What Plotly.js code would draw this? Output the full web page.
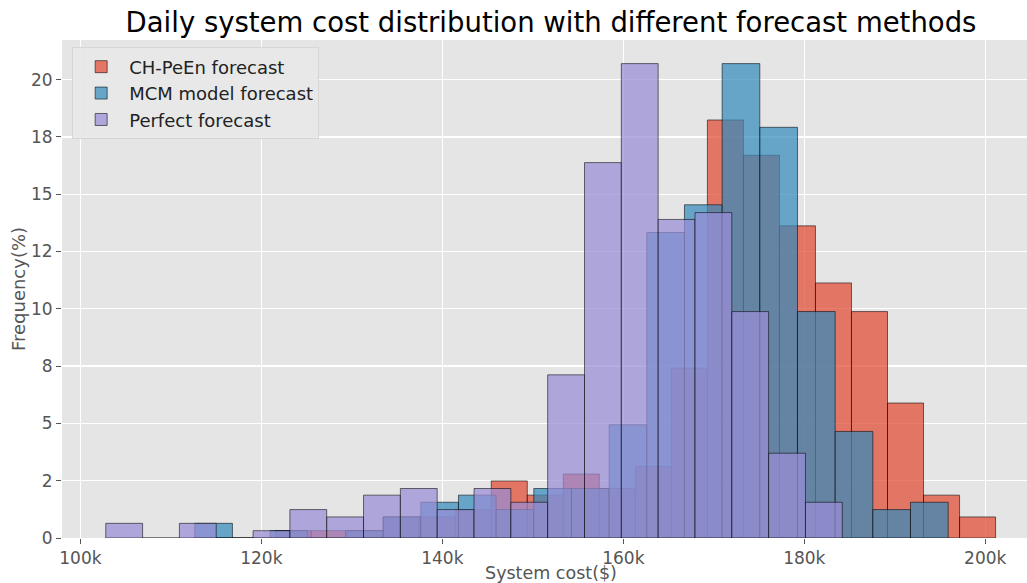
<!DOCTYPE html>
<html>
<head>
<meta charset="utf-8">
<script src="https://cdn.plot.ly/plotly-3.0.1.min.js"></script>
<style>
  html, body { margin: 0; padding: 0; background: #ffffff; overflow: hidden; }
  #chart { width: 1040px; height: 583px; }
</style>
</head>
<body>
<div id="chart"></div>
<script>
// ---- data ----
var seriesNames = ["CH-PeEn forecast", "MCM model forecast", "Perfect forecast"];

// histogram bin layout of each series: first bin left edge ($) and bin width ($)
var chpeenBinStart = 121520;
var chpeenBinWidth = 3981;
var mcmBinStart = 112640;
var mcmBinWidth = 4163;
var perfectBinStart = 102800;
var perfectBinWidth = 4070;

// frequency of each bin (%)
var chpeenFreq = [0.32, 0.32, 0.32, 0.92, 0.92, 1.24, 2.49, 1.87, 2.79, 2.16,
                  3.12, 7.41, 18.24, 16.70, 13.62, 11.13, 9.88, 5.89, 1.87, 0.92];
var mcmFreq = [0.64, 0, 0.32, 0, 0.32, 0.92, 1.56, 1.87, 1.24, 2.16,
               2.16, 4.94, 13.33, 14.54, 20.70, 17.92, 9.88, 4.65, 1.24, 1.56];
var perfectFreq = [0.64, 0, 0.64, 0, 0.32, 1.24, 0.92, 1.87, 2.16, 1.24,
                   2.16, 1.56, 7.12, 16.38, 20.70, 13.90, 14.20, 9.88, 3.70, 1.56];

var xTickVals = [100000, 120000, 140000, 160000, 180000, 200000];
var xTickText = ["100k", "120k", "140k", "160k", "180k", "200k"];
var yTickVals = [0, 2.5, 5, 7.5, 10, 12.5, 15, 17.5, 20];
var yTickText = ["0", "2", "5", "8", "10", "12", "15", "18", "20"];

// ---- build bar traces from the bin definitions ----
function binCenters(start, width, n) {
  var c = [];
  for (var i = 0; i < n; i++) c.push(start + width * (i + 0.5));
  return c;
}

var colors = ["rgba(226,74,51,0.72)", "rgba(52,138,189,0.72)", "rgba(152,142,213,0.72)"];
var starts = [chpeenBinStart, mcmBinStart, perfectBinStart];
var widths = [chpeenBinWidth, mcmBinWidth, perfectBinWidth];
var freqs = [chpeenFreq, mcmFreq, perfectFreq];

var traces = [];
for (var s = 0; s < 3; s++) {
  traces.push({
    type: "bar",
    name: seriesNames[s],
    x: binCenters(starts[s], widths[s], freqs[s].length),
    y: freqs[s],
    width: widths[s],
    marker: {
      color: colors[s],
      line: { color: "rgba(0,0,0,0.55)", width: 1 }
    },
    hoverinfo: "x+y"
  });
}

var fontFamily = "DejaVu Sans, Verdana, sans-serif";

var layout = {
  width: 1040,
  height: 583,
  barmode: "overlay",
  bargap: 0,
  paper_bgcolor: "#ffffff",
  plot_bgcolor: "#E5E5E5",
  font: { family: fontFamily, size: 17, color: "#555555" },
  margin: { l: 62, r: 0, t: 40, b: 45, pad: 0 },
  title: {
    text: "Daily system cost distribution with different forecast methods",
    font: { family: fontFamily, size: 27.5, color: "#000000" },
    xref: "paper", x: 0.5, xanchor: "center",
    y: 0.962, yanchor: "middle"
  },
  xaxis: {
    range: [97965, 206050],
    tickvals: xTickVals,
    ticktext: xTickText,
    ticks: "outside",
    ticklen: 5,
    tickwidth: 1,
    tickcolor: "#555555",
    tickfont: { family: fontFamily, size: 17, color: "#555555" },
    showgrid: true,
    gridcolor: "#ffffff",
    gridwidth: 1.3,
    zeroline: false,
    showline: false,
    title: { text: "System cost($)", font: { family: fontFamily, size: 17.5, color: "#555555" }, standoff: 8 }
  },
  yaxis: {
    range: [0, 21.73],
    tickvals: yTickVals,
    ticktext: yTickText,
    ticks: "outside",
    ticklen: 5,
    tickwidth: 1,
    tickcolor: "#555555",
    tickfont: { family: fontFamily, size: 17, color: "#555555" },
    showgrid: true,
    gridcolor: "#ffffff",
    gridwidth: 1.3,
    zeroline: false,
    showline: false,
    title: { text: "Frequency(%)", font: { family: fontFamily, size: 18, color: "#555555" }, standoff: 0 }
  },
  legend: {
    x: 0.0104, y: 0.985, xanchor: "left", yanchor: "top",
    bgcolor: "rgba(232,232,232,0.9)",
    bordercolor: "#d6d6d6",
    borderwidth: 1,
    font: { family: fontFamily, size: 18, color: "#222222" },
    traceorder: "normal",
    itemwidth: 46,
    tracegroupgap: 2
  },
  showlegend: true
};

Plotly.newPlot("chart", traces, layout, { displayModeBar: false, staticPlot: true });
</script>
</body>
</html>
